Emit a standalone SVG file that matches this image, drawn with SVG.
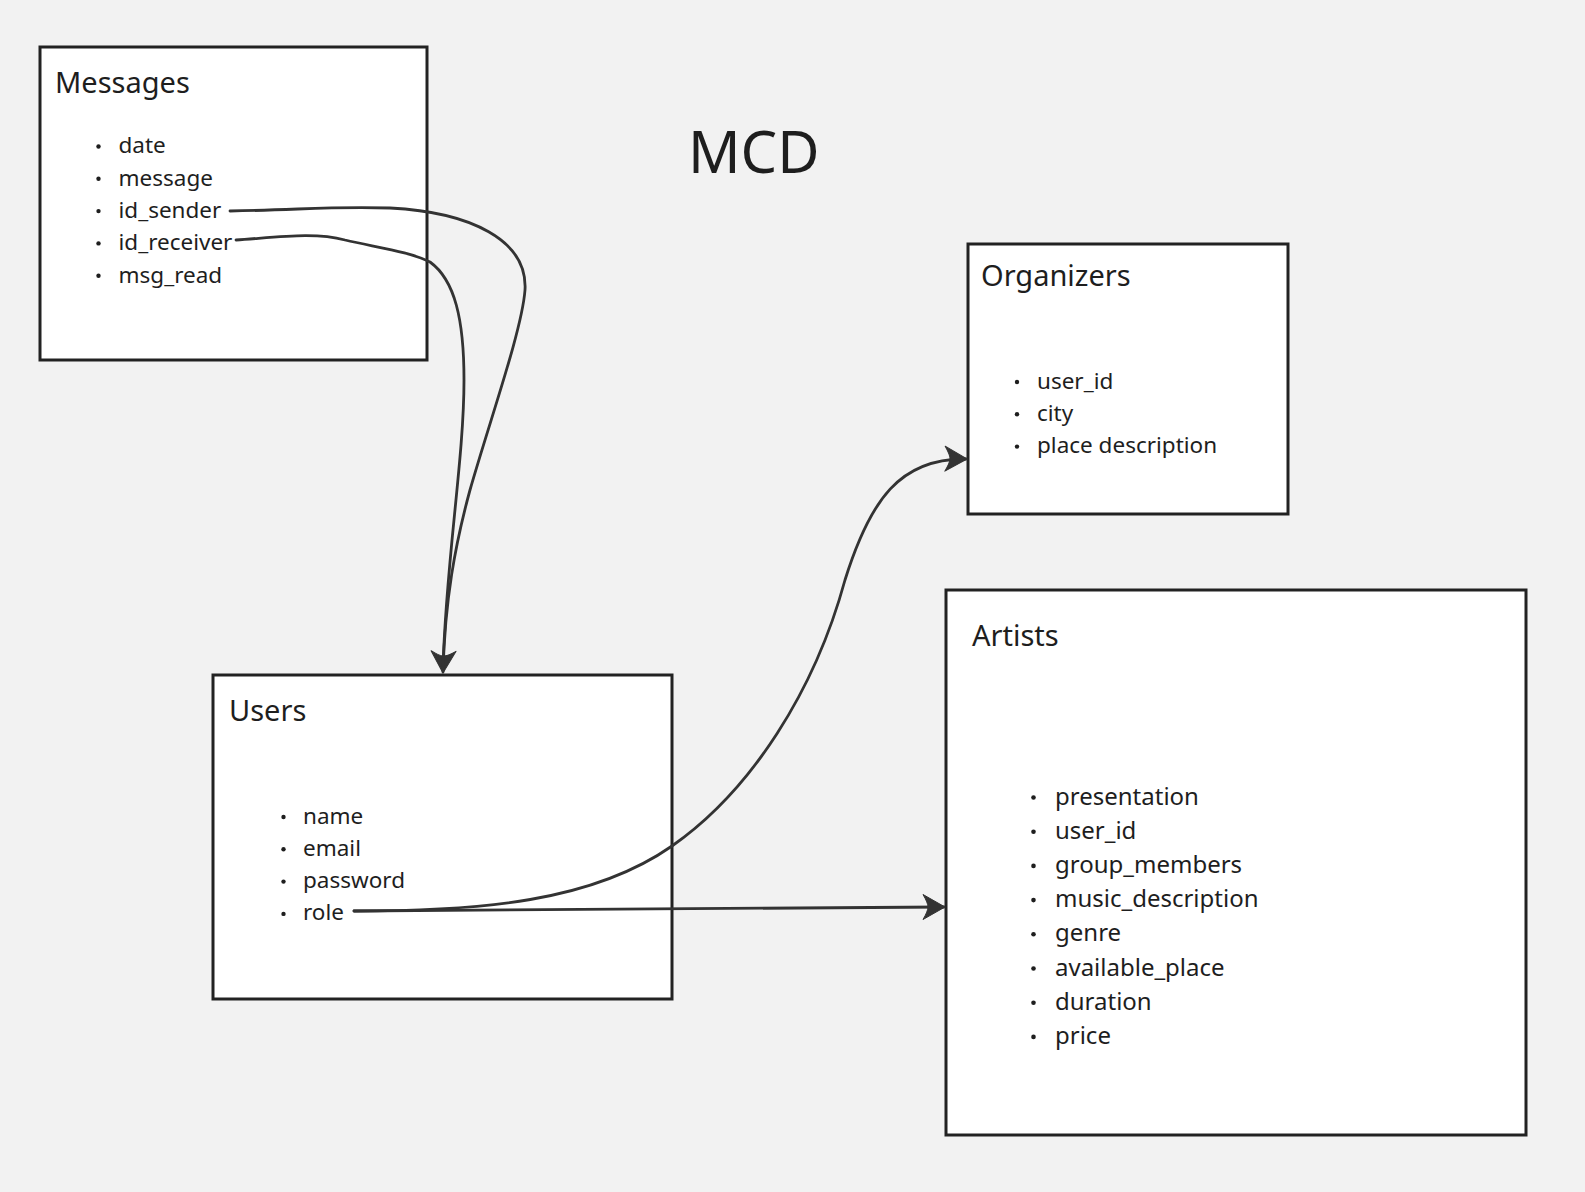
<svg xmlns="http://www.w3.org/2000/svg" width="1585" height="1192" viewBox="0 0 1585 1192">
<defs>
<style>
.box{fill:#ffffff;stroke:#222222;stroke-width:3}
.title{font-family:"Noto Sans","Open Sans",sans-serif;font-size:29px;fill:#1e1e1e}
.item{font-family:"Noto Sans","Open Sans",sans-serif;font-size:22.5px;fill:#1e1e1e}
.item-l{font-family:"Noto Sans","Open Sans",sans-serif;font-size:24px;fill:#1e1e1e}
.bul{fill:#1e1e1e}
.main{font-family:"Noto Sans","Open Sans",sans-serif;font-size:58px;fill:#1e1e1e}
.conn{fill:none;stroke:#333333;stroke-width:2.8;stroke-linecap:round;marker-end:url(#arr)}
.conn-n{fill:none;stroke:#333333;stroke-width:2.8;stroke-linecap:round}
</style>
<marker id="arr" markerUnits="userSpaceOnUse" markerWidth="24" markerHeight="28" viewBox="-22 -14 24 28" refX="0" refY="0" orient="auto">
<path d="M1,0 L-21,-12.5 Q-16,-4 -16,0 Q-16,4 -21,12.5 Z" fill="#333333" stroke="#333333" stroke-width="1" stroke-linejoin="round"/>
</marker>
</defs>
<rect x="0" y="0" width="1585" height="1192" fill="#f2f2f2"/>

<text class="main" x="688" y="173">MCD</text>

<g id="messages">
<rect class="box" x="40" y="47" width="387" height="313"/>
<text class="title" x="55" y="93">Messages</text>
<circle class="bul" cx="98.5" cy="146.5" r="2.2"/>
<circle class="bul" cx="98.5" cy="178.8" r="2.2"/>
<circle class="bul" cx="98.5" cy="211.1" r="2.2"/>
<circle class="bul" cx="98.5" cy="243.4" r="2.2"/>
<circle class="bul" cx="98.5" cy="275.7" r="2.2"/>
<text class="item" x="118.5" y="153.3">date</text>
<text class="item" x="118.5" y="185.6">message</text>
<text class="item" x="118.5" y="217.9">id_sender</text>
<text class="item" x="118.5" y="250.2">id_receiver</text>
<text class="item" x="118.5" y="282.5">msg_read</text>
</g>

<g id="organizers">
<rect class="box" x="968" y="244" width="320" height="270"/>
<text class="title" x="981" y="286">Organizers</text>
<circle class="bul" cx="1017" cy="382" r="2.2"/>
<circle class="bul" cx="1017" cy="414.3" r="2.2"/>
<circle class="bul" cx="1017" cy="446.6" r="2.2"/>
<text class="item" x="1037" y="388.5">user_id</text>
<text class="item" x="1037" y="420.8">city</text>
<text class="item" x="1037" y="453.1">place description</text>
</g>

<g id="users">
<rect class="box" x="213" y="675" width="459" height="324"/>
<text class="title" x="229" y="721">Users</text>
<circle class="bul" cx="283.5" cy="817" r="2.2"/>
<circle class="bul" cx="283.5" cy="849.3" r="2.2"/>
<circle class="bul" cx="283.5" cy="881.6" r="2.2"/>
<circle class="bul" cx="283.5" cy="913.9" r="2.2"/>
<text class="item" x="303" y="823.5">name</text>
<text class="item" x="303" y="855.8">email</text>
<text class="item" x="303" y="888.1">password</text>
<text class="item" x="303" y="920.4">role</text>
</g>

<g id="artists">
<rect class="box" x="946" y="590" width="580" height="545"/>
<text class="title" x="972" y="646">Artists</text>
<circle class="bul" cx="1033.5" cy="797.5" r="2.3"/>
<circle class="bul" cx="1033.5" cy="831.7" r="2.3"/>
<circle class="bul" cx="1033.5" cy="865.9" r="2.3"/>
<circle class="bul" cx="1033.5" cy="900.1" r="2.3"/>
<circle class="bul" cx="1033.5" cy="934.3" r="2.3"/>
<circle class="bul" cx="1033.5" cy="968.5" r="2.3"/>
<circle class="bul" cx="1033.5" cy="1002.7" r="2.3"/>
<circle class="bul" cx="1033.5" cy="1036.9" r="2.3"/>
<text class="item-l" x="1055" y="804.5">presentation</text>
<text class="item-l" x="1055" y="838.7">user_id</text>
<text class="item-l" x="1055" y="872.9">group_members</text>
<text class="item-l" x="1055" y="907.1">music_description</text>
<text class="item-l" x="1055" y="941.3">genre</text>
<text class="item-l" x="1055" y="975.5">available_place</text>
<text class="item-l" x="1055" y="1009.7">duration</text>
<text class="item-l" x="1055" y="1043.9">price</text>
</g>

<g id="connectors">
<path class="conn" d="M 230 211 C 300 210, 330 206, 390 208 C 470 212, 528 240, 525 290 C 522 330, 490 420, 470 490 C 455 545, 445 600, 443 672"/>
<path class="conn-n" d="M 236 240 C 280 237, 315 232, 345 240 C 380 248, 410 252, 430 262 C 455 280, 464 320, 464 380 C 464 460, 446 560, 443 668"/>
<path class="conn" d="M 354 911 C 480 911, 592 902, 672 846 C 752 790, 815 690, 845 580 C 870 500, 900 458, 966 459"/>
<path class="conn" d="M 354 911 C 500 910, 700 907, 944 907"/>
</g>
</svg>
